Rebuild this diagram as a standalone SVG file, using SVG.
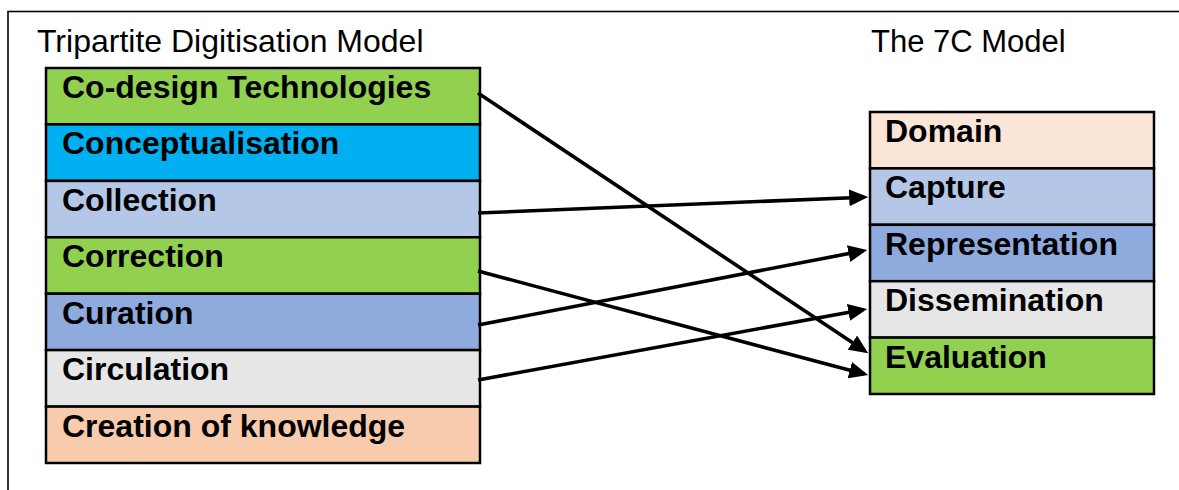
<svg xmlns="http://www.w3.org/2000/svg" width="1179" height="490" viewBox="0 0 1179 490">
<defs>
<style>
.title{font-family:"Liberation Sans",Arial,sans-serif;font-size:32px;fill:#000}
.lbl{font-family:"Liberation Sans",Arial,sans-serif;font-size:32px;font-weight:bold;fill:#000}
.box{stroke:#000;stroke-width:2.5}
.conn{stroke:#000;stroke-width:3.6;fill:none;marker-end:url(#ah)}
</style>
<marker id="ah" markerUnits="userSpaceOnUse" markerWidth="19" markerHeight="17" viewBox="0 0 18 16" refX="14" refY="8" orient="auto">
<path d="M0,0 L18,8 L0,16 z" fill="#000"/>
</marker>
</defs>
<rect x="8" y="11.5" width="1200" height="500" fill="#fff" stroke="#000" stroke-width="1.6"/>
<text class="title" x="37" y="52">Tripartite Digitisation Model</text>
<text class="title" x="871" y="52" style="font-size:31px">The 7C Model</text>
<g id="left-model">
<g id="codesign"><rect class="box" x="46" y="68" width="434" height="56.4" fill="#92D050"/><text class="lbl" x="62" y="98">Co-design Technologies</text></g>
<g id="conceptualisation"><rect class="box" x="46" y="124.4" width="434" height="56.5" fill="#00B0F0"/><text class="lbl" x="62" y="154.4">Conceptualisation</text></g>
<g id="collection"><rect class="box" x="46" y="180.9" width="434" height="56.4" fill="#B4C7E7"/><text class="lbl" x="62" y="210.9">Collection</text></g>
<g id="correction"><rect class="box" x="46" y="237.3" width="434" height="56.4" fill="#92D050"/><text class="lbl" x="62" y="267.3">Correction</text></g>
<g id="curation"><rect class="box" x="46" y="293.7" width="434" height="56.4" fill="#8FAADC"/><text class="lbl" x="62" y="323.7">Curation</text></g>
<g id="circulation"><rect class="box" x="46" y="350.1" width="434" height="56.5" fill="#E7E6E6"/><text class="lbl" x="62" y="380.1">Circulation</text></g>
<g id="creation"><rect class="box" x="46" y="406.6" width="434" height="56.4" fill="#F8CBAD"/><text class="lbl" x="62" y="436.6">Creation of knowledge</text></g>
</g>
<g id="right-model">
<g id="domain"><rect class="box" x="870" y="112" width="284" height="56.4" fill="#FBE5D6"/><text class="lbl" x="885" y="142">Domain</text></g>
<g id="capture"><rect class="box" x="870" y="168.4" width="284" height="56.4" fill="#B4C7E7"/><text class="lbl" x="885" y="198.4">Capture</text></g>
<g id="representation"><rect class="box" x="870" y="224.8" width="284" height="56.4" fill="#8FAADC"/><text class="lbl" x="885" y="254.8">Representation</text></g>
<g id="dissemination"><rect class="box" x="870" y="281.2" width="284" height="56.4" fill="#E7E6E6"/><text class="lbl" x="885" y="311.2">Dissemination</text></g>
<g id="evaluation"><rect class="box" x="870" y="337.6" width="284" height="56.4" fill="#92D050"/><text class="lbl" x="885" y="367.6">Evaluation</text></g>
</g>
<g id="connectors">
<line class="conn" x1="478" y1="93" x2="864.7" y2="350.8"/>
<line class="conn" x1="478" y1="213" x2="864" y2="197.2"/>
<line class="conn" x1="478" y1="271" x2="864.1" y2="374"/>
<line class="conn" x1="478" y1="325" x2="863.1" y2="250.8"/>
<line class="conn" x1="478" y1="380" x2="863" y2="309.7"/>
</g>
</svg>
